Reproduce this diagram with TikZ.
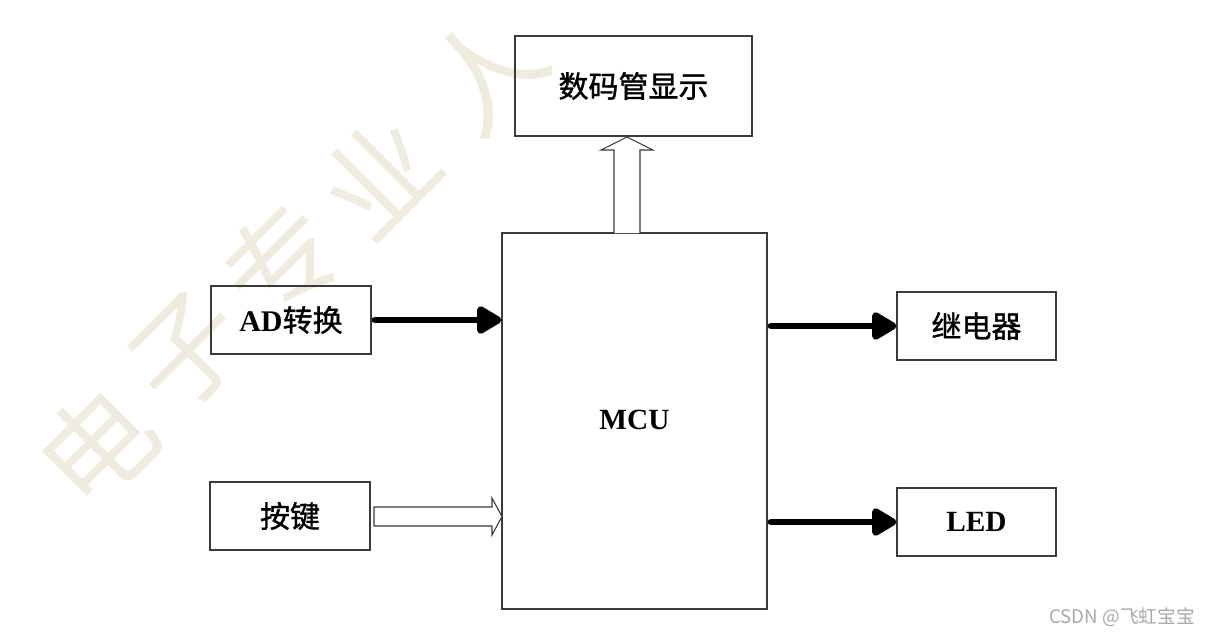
\documentclass[tikz,border=0pt]{standalone}
\usepackage{fontspec}
\setmainfont{Liberation Serif}
\newfontfamily\cjk{Noto Sans CJK SC}
\newfontfamily\cjkb{Noto Sans CJK SC}[FakeBold=1.2]
\usetikzlibrary{arrows.meta}
\definecolor{wm}{HTML}{EFECDF}
\definecolor{boxline}{HTML}{3A3A3A}
\definecolor{csdn}{HTML}{A8A8A8}
\tikzset{
  blk/.style={draw=boxline, line width=0.9pt, inner sep=0pt, fill=none,
    font=\cjkb\fontsize{22.5}{26}\selectfont},
  lat/.style={font=\bfseries\fontsize{22}{26}\selectfont},
  thickarr/.style={line width=5.2pt, line cap=round,
    -{Triangle[length=21pt,width=23pt,round]}},
  hollow/.style={draw=boxline, line width=0.8pt, fill=white, line join=miter},
  wmark/.style={text=wm, font=\cjk\fontsize{84}{84}\selectfont, rotate=45, inner sep=0pt},
}
\begin{document}
\begin{tikzpicture}[x=0.75pt,y=-0.75pt]
\useasboundingbox (0,0) rectangle (1213,636);
\clip (0,0) rectangle (1213,636);
% watermark
\node[wmark] (w1) at (96,446) {电};
\node[wmark] (w2) at (188,352) {子};
\node[wmark] (w3) at (282,262) {专};
\node[wmark] (w4) at (378,176) {业};
\node[wmark] (w5) at (485,72) {人};
% blocks
\node[blk, minimum width=177.75pt, minimum height=75pt] (seg) at (633.5,86) {数码管显示};
\node[blk, minimum width=198.75pt, minimum height=282pt] (mcu) at (634.5,421) {};
\node[lat] (mcutxt) at (634.5,420) {MCU};
\node[blk, minimum width=120pt, minimum height=51pt] (ad) at (291,320) {{\normalfont\bfseries AD}转换};
\node[blk, minimum width=120pt, minimum height=51pt] (key) at (290,516) {按键};
\node[blk, minimum width=119.25pt, minimum height=51pt] (relay) at (976.5,326) {继电器};
\node[blk, minimum width=119.25pt, minimum height=51pt] (led) at (976.5,522) {};
\node[lat] (ledtxt) at (976.5,522) {LED};
% thick arrows
\draw[thickarr] ([xshift=2.6pt]ad.east) -- (ad.east -| mcu.west);
\draw[thickarr] ([xshift=2.6pt]mcu.east |- relay.west) -- (relay.west);
\draw[thickarr] ([xshift=2.6pt]mcu.east |- led.west) -- (led.west);
% hollow block arrows
\draw[hollow] (614,233) -- (614,150) -- (601,150) -- (627,137) -- (653,150) -- (640,150) -- (640,233);
\draw[hollow] (374,507) -- (492,507) -- (492,498) -- (502,516.5) -- (492,535) -- (492,526) -- (374,526) -- cycle;
% csdn mark
\node[text=csdn, font=\cjk\fontsize{14}{16}\selectfont, inner sep=0pt] (csdn) at (1122,617) {CSDN @飞虹宝宝};
\end{tikzpicture}
\end{document}
